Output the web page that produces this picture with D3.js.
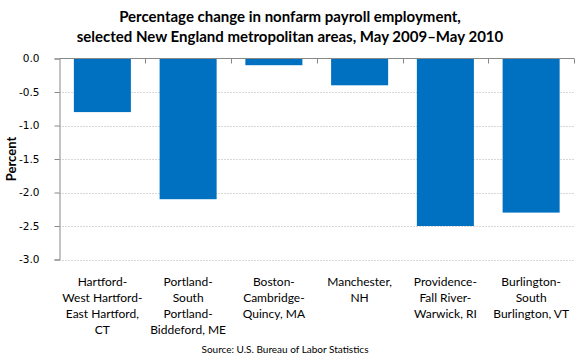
<!DOCTYPE html>
<html><head><meta charset="utf-8">
<script src="https://cdn.jsdelivr.net/npm/d3@7/dist/d3.min.js"></script>
<style>body{margin:0;background:#fff}</style>
</head><body>
<svg id="c" width="580" height="360"></svg>
<script>
const categories = [
  ["Hartford-","West Hartford-","East Hartford,","CT"],
  ["Portland-","South","Portland-","Biddeford, ME"],
  ["Boston-","Cambridge-","Quincy, MA"],
  ["Manchester,","NH"],
  ["Providence-","Fall River-","Warwick, RI"],
  ["Burlington-","South","Burlington, VT"]
];
const values = [-0.8, -2.1, -0.1, -0.4, -2.5, -2.3];
const yTicks = [0, -0.5, -1.0, -1.5, -2.0, -2.5, -3.0];
const titleLines = ["Percentage change in nonfarm payroll employment,", "selected New England metropolitan areas, May 2009\u2013May 2010"];
const source = "Source: U.S. Bureau of Labor Statistics";

const svg = d3.select("#c");
const mL = 59.5, mR = 574, mT = 58.5, mB = 259.5;
const x = d3.scaleBand().domain(d3.range(categories.length)).range([mL, mR]).paddingInner(0.335).paddingOuter(0.1675);
const xb = d3.scaleBand().domain(d3.range(categories.length)).range([mL, mR]);
const y = d3.scaleLinear().domain([0, -3]).range([mT, mB]);
const labelFont = "Lato, 'Open Sans', sans-serif";

// gridlines
svg.append("g").selectAll("line").data(yTicks.filter(d => d !== 0)).join("line")
  .attr("x1", mL).attr("x2", mR)
  .attr("y1", d => Math.round(y(d)) + 0.5).attr("y2", d => Math.round(y(d)) + 0.5)
  .attr("stroke", "#b0b0b0").attr("stroke-width", 1).attr("stroke-dasharray", "1,2");

// bars
svg.append("g").selectAll("rect").data(values).join("rect")
  .attr("x", (d, i) => x(i)).attr("width", x.bandwidth())
  .attr("y", y(0)).attr("height", d => y(d) - y(0))
  .attr("fill", "#0070c0");

// y axis
const yAxis = svg.append("g").attr("transform", `translate(${mL},0)`)
  .call(d3.axisLeft(y).tickValues(yTicks).tickSize(5).tickPadding(15));
yAxis.select(".domain").attr("stroke", "#888");
yAxis.selectAll(".tick line").attr("stroke", "#888");
yAxis.selectAll("text").attr("font-family", "Tahoma, 'DejaVu Sans', sans-serif").attr("font-size", 10.5).attr("fill", "#000")
  .text(d => d3.format(".1f")(d).replace("\u2212", "-"));

// x axis at zero with ticks at band boundaries
svg.append("line").attr("x1", mL).attr("x2", mR).attr("y1", y(0)).attr("y2", y(0)).attr("stroke", "#888");
svg.append("g").selectAll("line").data(d3.range(1, categories.length + 1)).join("line")
  .attr("x1", i => Math.round(mL + i * xb.step()) + 0.5).attr("x2", i => Math.round(mL + i * xb.step()) + 0.5)
  .attr("y1", y(0)).attr("y2", y(0) + 5).attr("stroke", "#888");

// category labels
const cl = svg.append("g").selectAll("text").data(categories).join("text")
  .attr("x", (d, i) => xb(i) + xb.bandwidth() / 2).attr("y", 286)
  .attr("text-anchor", "middle").attr("font-family", labelFont).attr("font-size", 12).attr("fill", "#000");
cl.selectAll("tspan").data(d => d).join("tspan")
  .attr("x", function() { return this.parentNode.getAttribute("x"); })
  .attr("dy", (d, i) => i === 0 ? 0 : 16).text(d => d);

// y title
svg.append("text").attr("transform", `translate(16,${(mT + mB) / 2}) rotate(-90)`)
  .attr("text-anchor", "middle").attr("font-family", labelFont).attr("font-weight", "bold").attr("font-size", 13).text("Percent");

// title
svg.append("g").selectAll("text").data(titleLines).join("text")
  .attr("x", 290).attr("y", (d, i) => 22 + i * 20)
  .attr("text-anchor", "middle").attr("font-family", labelFont).attr("font-weight", "bold").attr("font-size", 15).text(d => d);

// source
svg.append("text").attr("x", 285).attr("y", 353).attr("text-anchor", "middle")
  .attr("font-family", labelFont).attr("font-size", 10).text(source);
</script>
</body></html>
